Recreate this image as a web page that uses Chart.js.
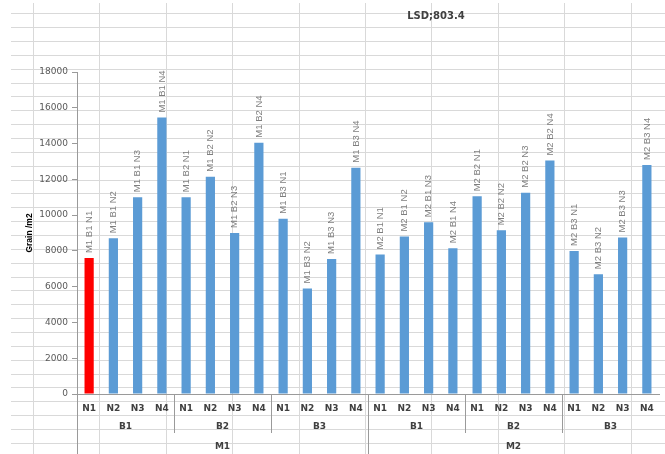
<!DOCTYPE html>
<html>
<head>
<meta charset="utf-8">
<script src="https://cdn.jsdelivr.net/npm/chart.js@4.4.1/dist/chart.umd.min.js"></script>
<style>
  html, body { margin: 0; padding: 0; background: #fff; }
  #wrap { width: 665px; height: 454px; }
</style>
</head>
<body>
<div id="wrap"><canvas id="c" width="665" height="454"></canvas></div>
<script>
// Factor levels of the trial
const mainLevels  = ['M1', 'M2'];
const blockLevels = ['B1', 'B2', 'B3'];
const nLevels     = ['N1', 'N2', 'N3', 'N4'];

// Grain yield per m2, ordered B1 N1..N4, B2 N1..N4, B3 N1..N4
const m1Grain = [7600, 8700, 11000, 15450, 11000, 12150, 9000, 14050, 9800, 5900, 7550, 12650];
const m2Grain = [7800, 8800, 9600, 8150, 11050, 9150, 11250, 13050, 8000, 6700, 8750, 12800];

const yTicks = [0, 2000, 4000, 6000, 8000, 10000, 12000, 14000, 16000, 18000];
const chartTitle = 'LSD;803.4';
const yTitle = 'Grain /m2';
const highlightIndex = 0;

// Build the flat category list from the three levels
const cells = [];
mainLevels.forEach(m => blockLevels.forEach(b => nLevels.forEach(n => cells.push({ m, b, n }))));
const grain = m1Grain.concat(m2Grain);
const nTickLabels = cells.map(c => c.n);
const barNames = cells.map(c => `${c.m} ${c.b} ${c.n}`);

const BLUE = '#5B9BD5';
const RED = '#FF0000';
const AXIS = '#9a9a9a';
const SHEET = '#d9d9d9';
const TEXT_DARK = '#404040';

// Worksheet gridlines behind the chart
const sheetGrid = {
  id: 'sheetGrid',
  beforeDraw(chart) {
    const { ctx, width, height } = chart;
    const colW = 66.4, rowH = 13.85, x0 = 33, y0 = 13.4, left = 11, top = 3;
    ctx.save();
    ctx.fillStyle = '#fff';
    ctx.fillRect(0, 0, width, height);
    ctx.strokeStyle = SHEET;
    ctx.lineWidth = 1;
    ctx.beginPath();
    for (let y = y0; y < height; y += rowH) {
      const yy = Math.round(y) + 0.5;
      ctx.moveTo(left, yy); ctx.lineTo(width, yy);
    }
    for (let x = x0; x < width; x += colW) {
      const xx = Math.round(x) + 0.5;
      ctx.moveTo(xx, top); ctx.lineTo(xx, height);
    }
    ctx.stroke();
    ctx.restore();
  }
};

// Rotated name label above every bar
const barLabels = {
  id: 'barLabels',
  afterDatasetsDraw(chart) {
    const { ctx } = chart;
    const meta = chart.getDatasetMeta(0);
    ctx.save();
    ctx.font = '9.5px "Liberation Sans", Arial, sans-serif';
    ctx.fillStyle = '#7f7f7f';
    ctx.textAlign = 'left';
    ctx.textBaseline = 'middle';
    meta.data.forEach((bar, i) => {
      ctx.save();
      ctx.translate(bar.x, bar.y - 5);
      ctx.rotate(-Math.PI / 2);
      ctx.fillText(barNames[i], 0, 0);
      ctx.restore();
    });
    ctx.restore();
  }
};

// Block and main-plot rows of the category axis, with their dividers
const groupAxis = {
  id: 'groupAxis',
  afterDraw(chart) {
    const { ctx, chartArea } = chart;
    const xs = chart.scales.x;
    const n = cells.length;
    const edge = i => i === 0 ? chartArea.left
      : i === n ? chartArea.right
      : (xs.getPixelForValue(i - 1) + xs.getPixelForValue(i)) / 2;
    const perBlock = nLevels.length;
    const perMain = blockLevels.length * perBlock;
    const top = xs.top;
    const blockRowBottom = top + 39;
    const bottom = xs.bottom;

    ctx.save();
    ctx.strokeStyle = AXIS;
    ctx.lineWidth = 1;
    ctx.beginPath();
    for (let i = 0; i < n; i += perBlock) {
      const x = Math.round(edge(i)) + 0.5;
      const isMain = i % perMain === 0;
      ctx.moveTo(x, top);
      ctx.lineTo(x, isMain ? bottom : blockRowBottom);
    }
    ctx.stroke();

    ctx.font = 'bold 9px "DejaVu Sans", sans-serif';
    ctx.fillStyle = TEXT_DARK;
    ctx.textAlign = 'center';
    ctx.textBaseline = 'middle';
    for (let i = 0; i < n; i += perBlock) {
      const cx = (edge(i) + edge(i + perBlock)) / 2;
      ctx.fillText(cells[i].b, cx, top + 33);
    }
    for (let i = 0; i < n; i += perMain) {
      const cx = (edge(i) + edge(i + perMain)) / 2;
      ctx.fillText(cells[i].m, cx, top + 53);
    }
    ctx.restore();
  }
};

// Chart heading
const heading = {
  id: 'heading',
  afterDraw(chart) {
    const { ctx } = chart;
    ctx.save();
    ctx.font = 'bold 10px "DejaVu Sans", sans-serif';
    ctx.fillStyle = TEXT_DARK;
    ctx.textAlign = 'center';
    ctx.textBaseline = 'middle';
    ctx.fillText(chartTitle, 436, 16);
    ctx.restore();
  }
};

new Chart(document.getElementById('c'), {
  type: 'bar',
  data: {
    labels: nTickLabels,
    datasets: [{
      data: grain,
      backgroundColor: grain.map((v, i) => i === highlightIndex ? RED : BLUE),
      borderWidth: 0,
      barPercentage: 0.38,
      categoryPercentage: 1
    }]
  },
  options: {
    responsive: false,
    animation: false,
    layout: { padding: { top: 72, right: 6, left: 0, bottom: 0 } },
    plugins: { legend: { display: false }, tooltip: { enabled: false }, title: { display: false } },
    scales: {
      x: {
        grid: { display: false },
        border: { display: true, color: AXIS, width: 1 },
        ticks: {
          autoSkip: false, maxRotation: 0, minRotation: 0, padding: 1,
          color: TEXT_DARK,
          font: { family: '"DejaVu Sans", sans-serif', size: 9, weight: 'bold' }
        },
        afterFit(scale) { scale.height = 60; }
      },
      y: {
        min: yTicks[0],
        max: yTicks[yTicks.length - 1],
        afterBuildTicks(scale) { scale.ticks = yTicks.map(v => ({ value: v })); },
        grid: { drawOnChartArea: false, drawTicks: true, tickLength: 5, color: AXIS },
        border: { display: true, color: AXIS, width: 1 },
        ticks: {
          padding: 4,
          color: '#595959',
          font: { family: '"DejaVu Sans", sans-serif', size: 9 },
          callback: v => String(v)
        },
        title: {
          display: true,
          text: yTitle,
          color: '#000',
          font: { family: '"Liberation Sans", Arial, sans-serif', size: 8.5, weight: 'bold' },
          padding: { top: 25, bottom: 0 }
        },
        afterFit(scale) { scale.width = 77; }
      }
    }
  },
  plugins: [sheetGrid, barLabels, groupAxis, heading]
});
</script>
</body>
</html>
